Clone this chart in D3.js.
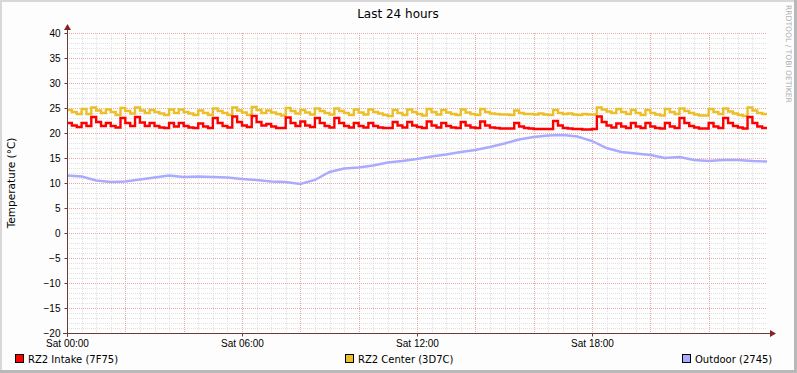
<!DOCTYPE html>
<html>
<head>
<meta charset="utf-8">
<script src="https://cdn.jsdelivr.net/npm/d3@7"></script>
<style>
  body { margin: 0; background: #fff; }
  svg { display: block; font-family: "DejaVu Sans", sans-serif; }
  .tick text { font-size: 10px; fill: #000; }
</style>
</head>
<body>
<div id="chart"></div>
<script>
// 10-minute samples, Sat 00:00 .. Sat 23:50
const intake = [
  22.0, 21.5, 21.2, 22.0, 21.4, 23.2, 22.2, 21.4, 22.0, 21.4, 21.1, 23.0,
  22.0, 21.4, 23.2, 22.1, 21.4, 22.0, 21.4, 21.1, 21.0, 22.0, 21.3, 22.0,
  21.4, 21.1, 21.0, 21.9, 21.3, 21.0, 23.0, 22.0, 21.4, 21.1, 23.3, 22.2,
  21.5, 21.2, 23.4, 22.2, 21.5, 21.8, 21.3, 21.0, 21.0, 23.1, 22.0, 21.4,
  22.3, 21.5, 21.2, 23.0, 22.0, 21.4, 21.1, 23.0, 22.0, 21.4, 21.1, 22.0,
  21.4, 21.1, 22.0, 21.4, 21.1, 21.0, 21.0, 22.2, 21.5, 21.1, 22.2, 21.5,
  21.2, 21.0, 22.3, 21.5, 21.1, 22.0, 21.4, 21.1, 21.0, 22.2, 21.5, 21.1,
  21.0, 22.3, 21.5, 21.1, 21.0, 20.9, 20.9, 20.9, 22.0, 21.3, 21.0, 20.9,
  20.8, 20.8, 20.8, 20.8, 22.4, 21.5, 21.0, 20.9, 20.8, 20.8, 20.7, 20.7,
  20.8, 23.3, 22.2, 21.5, 21.1, 21.9, 21.3, 21.0, 22.0, 21.3, 21.0, 22.0,
  21.3, 21.0, 20.9, 22.0, 21.3, 21.0, 23.0, 22.0, 21.4, 21.1, 20.9, 20.9,
  22.0, 21.3, 21.0, 23.0, 22.0, 21.4, 21.1, 20.9, 23.2, 22.0, 21.3, 21.0
];
const center = [
  24.6, 24.2, 23.8, 24.8, 23.8, 25.1, 24.5, 24.0, 24.7, 24.2, 23.6, 25.0,
  24.4, 23.9, 25.1, 24.5, 24.0, 24.6, 24.2, 23.9, 23.6, 24.7, 24.0, 24.7,
  24.2, 23.9, 23.6, 24.5, 24.0, 23.6, 24.9, 24.4, 24.0, 23.6, 25.1, 24.5,
  24.1, 23.6, 25.2, 24.6, 24.0, 24.5, 24.1, 23.8, 23.5, 25.0, 24.4, 23.9,
  24.6, 24.1, 23.7, 24.9, 24.4, 24.0, 23.7, 24.9, 24.4, 24.0, 23.6, 24.7,
  24.1, 23.7, 24.7, 24.2, 23.9, 23.6, 23.4, 24.6, 24.0, 23.6, 24.7, 24.2,
  23.8, 23.5, 24.8, 24.2, 23.7, 24.6, 24.1, 23.8, 23.6, 24.7, 24.1, 23.8,
  23.6, 24.8, 24.2, 23.9, 23.8, 23.7, 23.7, 23.6, 24.5, 24.0, 23.8, 23.8,
  23.7, 23.9, 23.7, 23.6, 24.6, 24.0, 23.8, 23.9, 23.7, 23.6, 23.8, 23.7,
  23.7, 25.1, 24.7, 24.3, 24.0, 24.8, 24.2, 23.8, 24.6, 24.0, 23.6, 24.6,
  24.0, 23.7, 23.5, 24.8, 24.2, 23.8, 24.9, 24.4, 24.0, 23.7, 23.5, 23.5,
  24.8, 24.2, 23.8, 24.9, 24.3, 23.9, 23.6, 23.4, 25.1, 24.5, 24.0, 23.8
];
// 30-minute samples, Sat 00:00 .. Sun 00:00
const outdoor = [
  11.5, 11.3, 10.5, 10.2, 10.3, 10.7, 11.1, 11.5, 11.2, 11.3, 11.2, 11.1,
  10.8, 10.6, 10.3, 10.2, 9.8, 10.6, 12.2, 12.9, 13.1, 13.5, 14.1, 14.4,
  14.8, 15.3, 15.7, 16.2, 16.6, 17.2, 17.9, 18.7, 19.2, 19.5, 19.6, 19.3,
  18.4, 17.0, 16.2, 15.9, 15.6, 15.0, 15.2, 14.6, 14.4, 14.6, 14.6, 14.4,
  14.3
];
const yTicks = [-20, -15, -10, -5, 0, 5, 10, 15, 20, 25, 30, 35, 40];
const seriesNames = ['RZ2 Intake (7F75)', 'RZ2 Center (3D7C)', 'Outdoor (2745)'];
const seriesColors = ['#ff0000', '#eabf28', '#aaaaff'];

const W = 797, H = 373;
const margin = { top: 33, left: 67 };
const w = 700, h = 300;

const start = new Date(2012, 0, 7, 0, 0);
const end = d3.timeHour.offset(start, 24);
const MIN = 60 * 1000;

const toPoints = (arr, stepMin) => arr.map((v, i) => ({ t: new Date(+start + i * stepMin * MIN), v }));
const intakePts = toPoints(intake, 10);
const centerPts = toPoints(center, 10);
// hold last sample to the right edge
intakePts.push({ t: end, v: intake[intake.length - 1] });
centerPts.push({ t: end, v: center[center.length - 1] });
const outdoorPts = toPoints(outdoor, 30);

const svg = d3.select('#chart').append('svg')
  .attr('width', W)
  .attr('height', H);

// frame
svg.append('rect').attr('width', W).attr('height', H).attr('fill', '#fdfdfd');
svg.append('rect').attr('x', 0).attr('y', 0).attr('width', W).attr('height', 2).attr('fill', '#d8d8d8');
svg.append('rect').attr('x', 0).attr('y', 0).attr('width', 2).attr('height', H).attr('fill', '#d8d8d8');
svg.append('rect').attr('x', W - 3).attr('y', 0).attr('width', 3).attr('height', H).attr('fill', '#b8b8b8');
svg.append('rect').attr('x', 0).attr('y', H - 3).attr('width', W).attr('height', 3).attr('fill', '#b8b8b8');

const x = d3.scaleTime().domain([start, end]).range([margin.left, margin.left + w]);
const y = d3.scaleLinear().domain([-20, 40]).range([margin.top + h, margin.top]);

const g = svg.append('g');
g.append('rect')
  .attr('x', margin.left).attr('y', margin.top)
  .attr('width', w).attr('height', h)
  .attr('fill', '#fff');

// minor grid
const minorX = d3.timeMinute.every(30).range(start, end).slice(1);
const minorY = d3.range(-19, 41).filter((d) => d % 5 !== 0);
g.append('g').selectAll('line').data(minorX).join('line')
  .attr('x1', (d) => Math.round(x(d)) + 0.5).attr('x2', (d) => Math.round(x(d)) + 0.5)
  .attr('y1', margin.top).attr('y2', margin.top + h)
  .attr('stroke', '#e0e0e0').attr('stroke-dasharray', '1,1');
g.append('g').selectAll('line').data(minorY).join('line')
  .attr('x1', margin.left).attr('x2', margin.left + w)
  .attr('y1', (d) => Math.round(y(d)) + 0.5).attr('y2', (d) => Math.round(y(d)) + 0.5)
  .attr('stroke', '#e0e0e0').attr('stroke-dasharray', '1,1');

// major grid
const majorX = d3.timeHour.every(2).range(start, end).slice(1);
g.append('g').selectAll('line').data(majorX).join('line')
  .attr('x1', (d) => Math.round(x(d)) + 0.5).attr('x2', (d) => Math.round(x(d)) + 0.5)
  .attr('y1', margin.top).attr('y2', margin.top + h)
  .attr('stroke', '#eaa8a8').attr('stroke-dasharray', '1,1');
g.append('g').selectAll('line').data(yTicks.filter((d) => d > -20)).join('line')
  .attr('x1', margin.left).attr('x2', margin.left + w)
  .attr('y1', (d) => Math.round(y(d)) + 0.5).attr('y2', (d) => Math.round(y(d)) + 0.5)
  .attr('stroke', '#eaa8a8').attr('stroke-dasharray', '1,1');

// data lines
const stepLine = d3.line().x((d) => x(d.t)).y((d) => y(d.v)).curve(d3.curveStepAfter);
const smoothLine = d3.line().x((d) => x(d.t)).y((d) => y(d.v));

g.append('path').datum(outdoorPts)
  .attr('d', smoothLine).attr('fill', 'none')
  .attr('stroke', seriesColors[2]).attr('stroke-width', 2.4);
g.append('path').datum(centerPts)
  .attr('d', stepLine).attr('fill', 'none')
  .attr('stroke', seriesColors[1]).attr('stroke-width', 2.4);
g.append('path').datum(intakePts)
  .attr('d', stepLine).attr('fill', 'none')
  .attr('stroke', seriesColors[0]).attr('stroke-width', 2.4);

// axes
const yAxis = d3.axisLeft(y).tickValues(yTicks).tickSize(3).tickPadding(4);
const yG = svg.append('g')
  .attr('transform', `translate(${margin.left + 0.5},0)`)
  .call(yAxis);

const xAxis = d3.axisBottom(x)
  .tickValues(d3.timeHour.every(6).range(start, end))
  .tickFormat(d3.timeFormat('%a %H:%M'))
  .tickSize(3).tickPadding(3);
const xG = svg.append('g')
  .attr('transform', `translate(0,${margin.top + h + 0.5})`)
  .call(xAxis);

[yG, xG].forEach((a) => {
  a.select('.domain').remove();
  a.selectAll('.tick line').attr('stroke', '#7a3030');
});

// axis lines and arrows
const axisCol = '#6b3a3a';
svg.append('line')
  .attr('x1', margin.left + 0.5).attr('x2', margin.left + 0.5)
  .attr('y1', margin.top + h + 4).attr('y2', margin.top - 5)
  .attr('stroke', axisCol);
svg.append('line')
  .attr('x1', margin.left - 4).attr('x2', margin.left + w + 3)
  .attr('y1', margin.top + h + 0.5).attr('y2', margin.top + h + 0.5)
  .attr('stroke', axisCol);
svg.append('path')
  .attr('d', `M${margin.left + 0.5},${margin.top - 9} l-3.5,6 h7 z`)
  .attr('fill', '#8b2020');
svg.append('path')
  .attr('d', `M${margin.left + w + 9},${margin.top + h + 0.5} l-6,-3.5 v7 z`)
  .attr('fill', '#8b2020');

// title
svg.append('text')
  .attr('x', 398).attr('y', 18)
  .attr('text-anchor', 'middle')
  .style('font-size', '12px')
  .text('Last 24 hours');

// y label
svg.append('text')
  .attr('transform', `translate(15,${margin.top + h / 2}) rotate(-90)`)
  .attr('text-anchor', 'middle')
  .style('font-size', '10.5px')
  .text('Temperature (°C)');

// watermark
svg.append('text')
  .attr('transform', 'translate(786,5) rotate(90)')
  .style('font-size', '7.6px')
  .attr('fill', '#b0b0b0')
  .text('RRDTOOL / TOBI OETIKER');

// legend
const legendX = [15, 345, 682];
const legend = svg.append('g').selectAll('g')
  .data(seriesNames)
  .join('g')
  .attr('transform', (d, i) => `translate(${legendX[i]},354)`);
legend.append('rect')
  .attr('x', 0.5).attr('y', 0.5).attr('width', 8).attr('height', 8)
  .attr('fill', (d, i) => seriesColors[i])
  .attr('stroke', '#000');
legend.append('text')
  .attr('x', 13).attr('y', 8.5)
  .style('font-size', '10px')
  .text((d) => d);
</script>
</body>
</html>
